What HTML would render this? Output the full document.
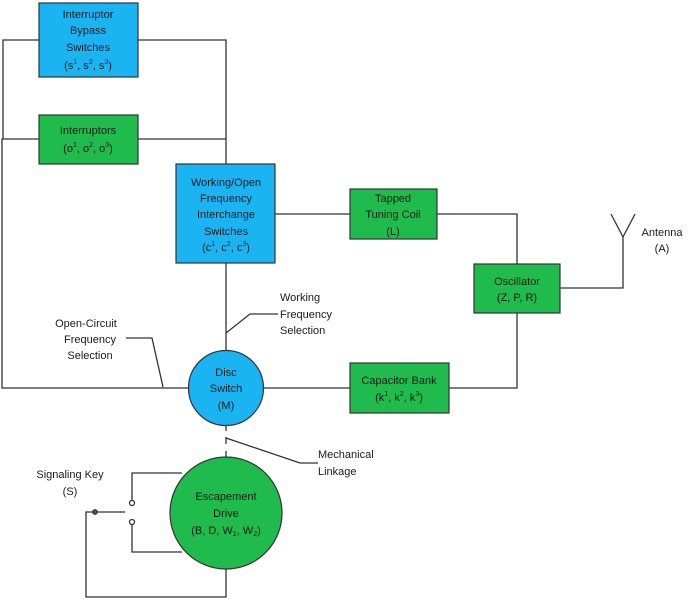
<!DOCTYPE html>
<html><head><style>
body{margin:0;background:#fff}
svg{display:block}
text{font-family:"Liberation Sans",sans-serif;font-size:11px;fill:#1a1a1a;text-anchor:middle}
.s{font-size:7px}
</style></head><body>
<svg width="694" height="600" viewBox="0 0 694 600">
<g stroke="#333" stroke-width="1.3" fill="none">
<polyline points="39,40 3,40 3,139"/>
<polyline points="138,40 226,40 226,164"/>
<polyline points="39,139 2,139 2,388 188,388"/>
<line x1="138" y1="139" x2="226" y2="139"/>
<line x1="275" y1="214" x2="350" y2="214"/>
<polyline points="437,214 517,214 517,264"/>
<polyline points="560,288 623,288 623,237"/>
<polyline points="611,214 623,237 635,214"/>
<polyline points="517,313 517,388 449,388"/>
<line x1="263" y1="388" x2="350" y2="388"/>
<line x1="226" y1="263" x2="226" y2="351"/>
<polyline points="226,333 250,314 278,314"/>
<polyline points="126,338 152,338 163,387"/>
<line x1="226" y1="426" x2="226" y2="431"/>
<line x1="226" y1="437" x2="226" y2="444"/>
<line x1="226" y1="451" x2="226" y2="457"/>
<polyline points="226,438 300,463 318,463"/>
<polyline points="182,473 132,473 132,500"/>
<polyline points="132,525 132,552 182,552"/>
<line x1="95" y1="512" x2="125" y2="512"/>
<polyline points="95,512 86,512 86,597 226,597 226,569"/>
<circle cx="132" cy="503" r="2.5" fill="#fff"/>
<circle cx="132" cy="522" r="2.5" fill="#fff"/>
<circle cx="95" cy="512" r="2.2" fill="#555"/>
</g>
<g stroke="#333" stroke-width="1.2">
<rect x="39" y="3" width="99" height="74" fill="#1ab4f2"/>
<rect x="39" y="115" width="99" height="49" fill="#1fbb4d"/>
<rect x="176" y="164" width="99" height="99" fill="#1ab4f2"/>
<rect x="350" y="189" width="87" height="50" fill="#1fbb4d"/>
<rect x="474" y="264" width="86" height="49" fill="#1fbb4d"/>
<rect x="350" y="363" width="99" height="50" fill="#1fbb4d"/>
<circle cx="226" cy="388" r="37.5" fill="#1ab4f2"/>
<circle cx="226" cy="513" r="56" fill="#1fbb4d"/>
</g>
<text x="88" y="18">Interruptor</text>
<text x="88" y="34">Bypass</text>
<text x="88" y="51">Switches</text>
<text x="88" y="69">(s<tspan class="s" dy="-5">1</tspan><tspan dy="5">, s</tspan><tspan class="s" dy="-5">2</tspan><tspan dy="5">, s</tspan><tspan class="s" dy="-5">3</tspan><tspan dy="5">)</tspan></text>
<text x="88" y="134">Interruptors</text>
<text x="88" y="152">(o<tspan class="s" dy="-5">1</tspan><tspan dy="5">, o</tspan><tspan class="s" dy="-5">2</tspan><tspan dy="5">, o</tspan><tspan class="s" dy="-5">3</tspan><tspan dy="5">)</tspan></text>
<text x="226" y="186">Working/Open</text>
<text x="226" y="202">Frequency</text>
<text x="226" y="218">Interchange</text>
<text x="226" y="235">Switches</text>
<text x="226" y="251">(c<tspan class="s" dy="-5">1</tspan><tspan dy="5">, c</tspan><tspan class="s" dy="-5">2</tspan><tspan dy="5">, c</tspan><tspan class="s" dy="-5">3</tspan><tspan dy="5">)</tspan></text>
<text x="393" y="202">Tapped</text>
<text x="393" y="218">Tuning Coil</text>
<text x="393" y="235">(L)</text>
<text x="517" y="285">Oscillator</text>
<text x="517" y="301">(Z, P, R)</text>
<text x="399" y="384">Capacitor Bank</text>
<text x="399" y="401">(k<tspan class="s" dy="-5">1</tspan><tspan dy="5">, k</tspan><tspan class="s" dy="-5">2</tspan><tspan dy="5">, k</tspan><tspan class="s" dy="-5">3</tspan><tspan dy="5">)</tspan></text>
<text x="662" y="236">Antenna</text>
<text x="662" y="252">(A)</text>
<text x="226" y="376">Disc</text>
<text x="226" y="392">Switch</text>
<text x="226" y="409">(M)</text>
<text x="226" y="500">Escapement</text>
<text x="226" y="517">Drive</text>
<text x="226" y="534">(B, D, W<tspan class="s" dy="2">1</tspan><tspan dy="-2">, W</tspan><tspan class="s" dy="2">2</tspan><tspan dy="-2">)</tspan></text>
<text x="280" y="301" style="text-anchor:start">Working</text>
<text x="280" y="318" style="text-anchor:start">Frequency</text>
<text x="280" y="334" style="text-anchor:start">Selection</text>
<text x="318" y="458" style="text-anchor:start">Mechanical</text>
<text x="318" y="475" style="text-anchor:start">Linkage</text>
<text x="86" y="327">Open-Circuit</text>
<text x="90" y="343">Frequency</text>
<text x="90" y="359">Selection</text>
<text x="70" y="478">Signaling Key</text>
<text x="70" y="495">(S)</text>
</svg>
</body></html>
